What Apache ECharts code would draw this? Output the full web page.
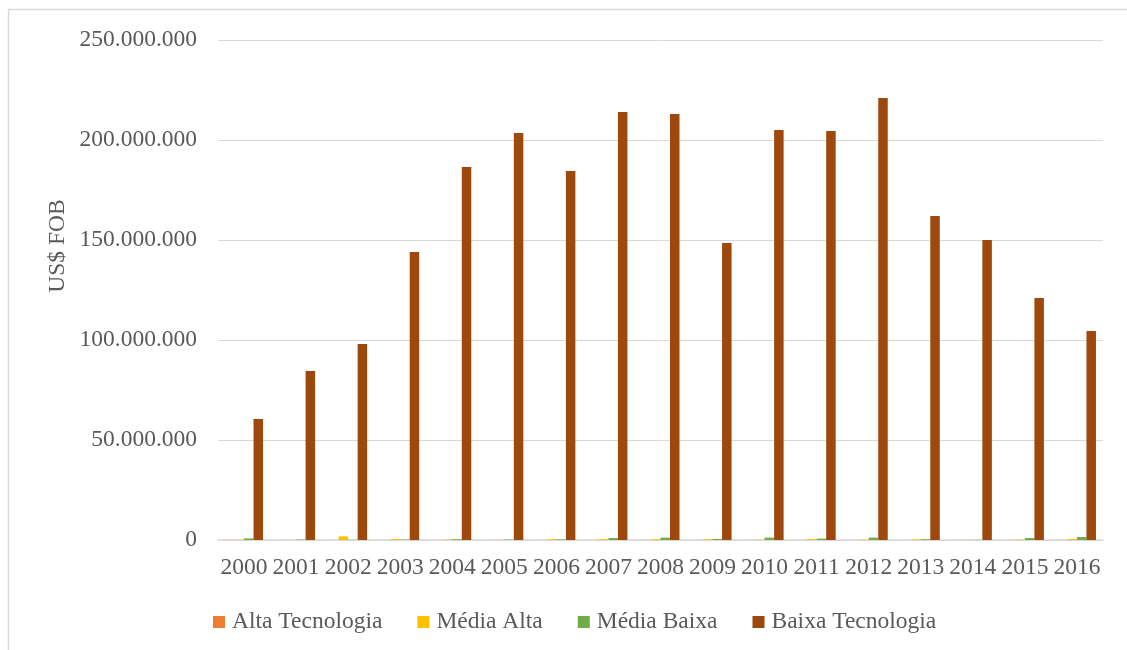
<!DOCTYPE html>
<html>
<head>
<meta charset="utf-8">
<title>Exportações por intensidade tecnológica</title>
<script src="https://cdn.jsdelivr.net/npm/echarts@6/dist/echarts.min.js"></script>
<style>
  html, body { margin: 0; padding: 0; background: #ffffff; }
  #chart { width: 1127px; height: 650px; }
</style>
</head>
<body>
<div id="chart"></div>
<script>
// Anos (categorias do eixo X)
const years = ['2000','2001','2002','2003','2004','2005','2006','2007','2008',
               '2009','2010','2011','2012','2013','2014','2015','2016'];

// Exportações em US$ FOB por intensidade tecnológica
const altaTecnologia = [50000, 20000, 30000, 40000, 30000, 20000, 30000, 40000, 50000,
                        30000, 40000, 30000, 40000, 20000, 20000, 30000, 60000];
const mediaAlta      = [100000, 50000, 1800000, 500000, 200000, 100000, 400000, 400000, 400000,
                        400000, 200000, 500000, 200000, 300000, 100000, 200000, 500000];
const mediaBaixa     = [800000, 200000, 100000, 200000, 400000, 200000, 300000, 1000000, 1200000,
                        500000, 1200000, 700000, 1200000, 400000, 100000, 1000000, 1500000];
const baixaTecnologia = [60500000, 84500000, 98000000, 144000000, 186500000, 203500000, 184500000,
                         214000000, 213000000, 148500000, 205000000, 204500000, 221000000,
                         162000000, 150000000, 121000000, 104500000];

// Rótulos do eixo Y
const yTicks = [0, 50000000, 100000000, 150000000, 200000000, 250000000];

const seriesNames = ['Alta Tecnologia', 'Média Alta', 'Média Baixa', 'Baixa Tecnologia'];
const seriesColors = ['#ED7D31', '#FFC000', '#70AD47', '#9E480E'];
const seriesData = [altaTecnologia, mediaAlta, mediaBaixa, baixaTecnologia];

const fontFamily = '"Liberation Serif", "Times New Roman", serif';
const textColor = '#595959';
const fontSize = 23.5;

function fmtPt(v) {
  return String(Math.round(v)).replace(/\B(?=(\d{3})+(?!\d))/g, '.');
}

const chart = echarts.init(document.getElementById('chart'), null, { renderer: 'canvas' });

chart.setOption({
  backgroundColor: '#ffffff',
  animation: false,
  textStyle: { fontFamily: fontFamily, color: textColor },
  grid: { left: 218, right: 24, top: 40, bottom: 110, containLabel: false },
  graphic: [
    {
      type: 'rect',
      shape: { x: 8.5, y: 9.5, width: 1140, height: 700 },
      style: { fill: 'none', stroke: '#d9d9d9', lineWidth: 1.5 },
      silent: true, z: -10
    },
    {
      type: 'text',
      x: 58, y: 246,
      rotation: Math.PI / 2,
      style: {
        text: 'US$ FOB',
        fontFamily: fontFamily, fontSize: fontSize, fill: textColor,
        align: 'center', verticalAlign: 'middle'
      }
    }
  ],
  legend: {
    data: seriesNames,
    left: 213, top: 610,
    padding: 0,
    itemWidth: 12, itemHeight: 12,
    itemGap: 35,
    icon: 'rect',
    textStyle: { fontFamily: fontFamily, fontSize: fontSize, color: textColor, padding: [0, 0, 0, 2] }
  },
  xAxis: {
    type: 'category',
    data: years,
    axisLine: { lineStyle: { color: '#d9d9d9', width: 1.5 } },
    axisTick: { show: false },
    axisLabel: { interval: 0, fontFamily: fontFamily, fontSize: fontSize, color: textColor, margin: 16 }
  },
  yAxis: {
    type: 'value',
    min: yTicks[0],
    max: yTicks[yTicks.length - 1],
    interval: yTicks[1] - yTicks[0],
    axisLine: { show: false },
    axisTick: { show: false },
    splitLine: { lineStyle: { color: '#d9d9d9', width: 1 } },
    axisLabel: {
      fontFamily: fontFamily, fontSize: fontSize, color: textColor, margin: 21,
      formatter: v => fmtPt(v)
    }
  },
  series: seriesNames.map((name, i) => ({
    name: name,
    type: 'bar',
    data: seriesData[i],
    barWidth: 9.5,
    barGap: '0%',
    itemStyle: { color: seriesColors[i] }
  }))
});
</script>
</body>
</html>
